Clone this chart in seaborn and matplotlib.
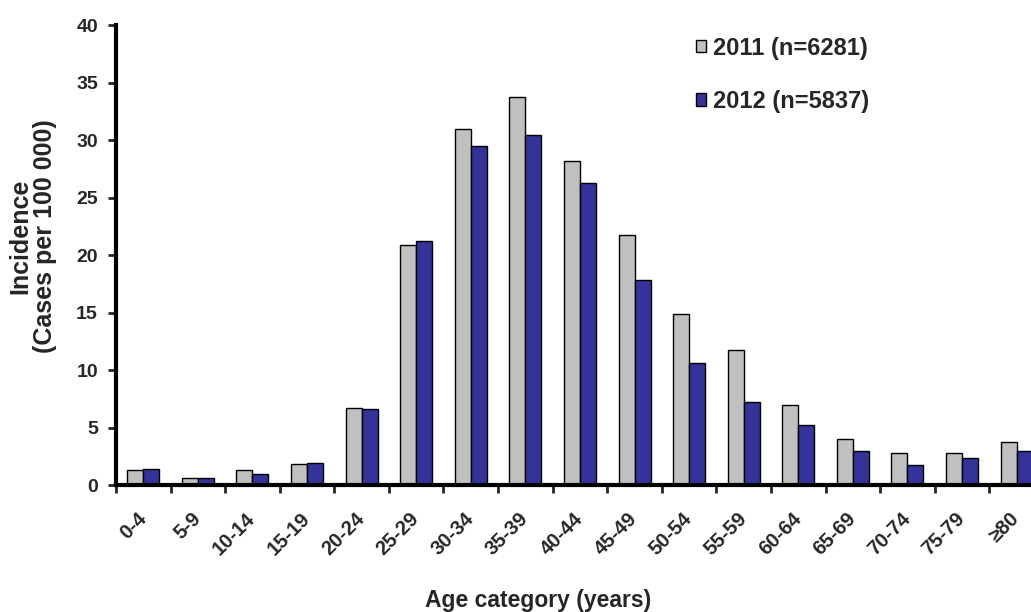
import numpy as np
import pandas as pd
import seaborn as sns
import matplotlib.pyplot as plt
import matplotlib.patches as mpatches

ages = ['0-4', '5-9', '10-14', '15-19', '20-24', '25-29', '30-34', '35-39', '40-44',
        '45-49', '50-54', '55-59', '60-64', '65-69', '70-74', '75-79', '≥80']
inc_2011 = [1.3, 0.6, 1.3, 1.8, 6.7, 20.9, 31.0, 33.7, 28.2, 21.7, 14.9, 11.7, 7.0, 4.0, 2.75, 2.75, 3.75]
inc_2012 = [1.4, 0.6, 1.0, 1.9, 6.6, 21.2, 29.5, 30.4, 26.3, 17.8, 10.6, 7.2, 5.2, 2.95, 1.75, 2.35, 3.0]
series = ['2011 (n=6281)', '2012 (n=5837)']
colors = ['#C0C0C0', '#333399']

df = pd.DataFrame({
    'age': ages * 2,
    'incidence': inc_2011 + inc_2012,
    'year': [series[0]] * len(ages) + [series[1]] * len(ages),
})

sns.set_style('white')
plt.rcParams['font.family'] = ['Liberation Sans', 'DejaVu Sans']
plt.rcParams['font.weight'] = 'bold'

fig = plt.figure(figsize=(10.31, 6.12), dpi=100)
ax = fig.add_axes([0.1125, 0.2075, 0.9, 0.7516])

sns.barplot(data=df, x='age', y='incidence', hue='year', palette=colors, saturation=1,
            width=0.586, edgecolor='black', linewidth=1.0, ax=ax, legend=False)

ax.set_ylim(0, 40)
ax.set_yticks(np.arange(0, 41, 5))
ax.set_xlim(-0.5, len(ages) - 0.5)

# tick marks sit on the category boundaries, labels on the centres
ax.set_xticks(np.arange(-0.5, len(ages), 1.0), minor=True)
ax.set_xticks(np.arange(len(ages)))
ax.set_xticklabels(ages, rotation=45, ha='right', va='center', rotation_mode='anchor',
                   fontsize=14.5, fontweight='bold')
ax.tick_params(axis='x', which='major', length=0, pad=22)
ax.tick_params(axis='x', which='minor', length=6, width=2, direction='out', bottom=True)
ax.tick_params(axis='y', length=6, width=2, direction='out', left=True, labelsize=14, pad=7)
for t in ax.get_yticklabels():
    t.set_fontweight('bold')

for s in ['top', 'right']:
    ax.spines[s].set_visible(False)
for s in ['left', 'bottom']:
    ax.spines[s].set_linewidth(3)
    ax.spines[s].set_color('black')

ax.set_ylabel('Incidence\n(Cases per 100 000)', fontsize=18, fontweight='bold', linespacing=1.0)
ax.yaxis.set_label_coords(-0.064, 0.54)
ax.set_xlabel('Age category (years)', fontsize=16.5, fontweight='bold')
ax.xaxis.set_label_coords(0.455, -0.226)

handles = [mpatches.Patch(facecolor=c, edgecolor='black', linewidth=1, label=l)
           for c, l in zip(colors, series)]
leg = ax.legend(handles=handles, loc='upper left', bbox_to_anchor=(0.654, 0.975),
                bbox_transform=fig.transFigure, frameon=False,
                prop={'size': 17, 'weight': 'bold'},
                handlelength=0.45, handleheight=0.45, handletextpad=0.3, labelspacing=1.3)

fig.savefig('out.png', dpi=100)
